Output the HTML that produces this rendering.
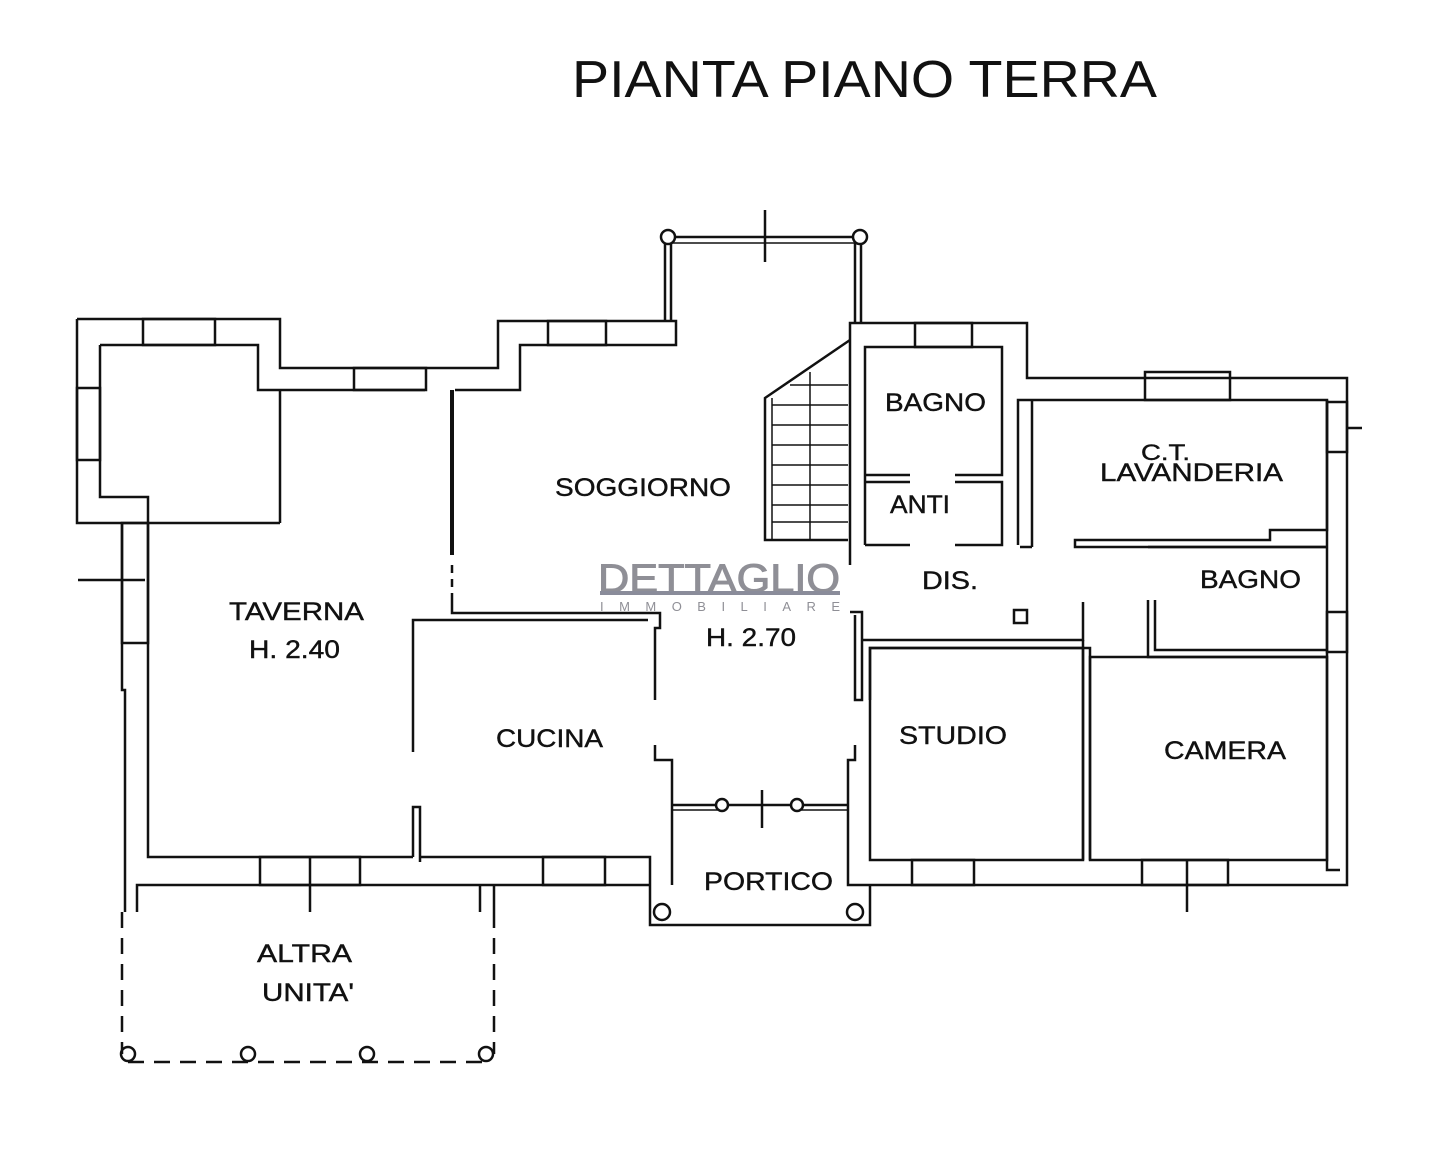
<!DOCTYPE html>
<html><head><meta charset="utf-8"><style>
html,body{margin:0;padding:0;background:#fff;}
svg{display:block;}
text{font-family:"Liberation Sans",sans-serif;fill:#111;}
</style></head><body>
<svg width="1451" height="1173" viewBox="0 0 1451 1173" xmlns="http://www.w3.org/2000/svg">
<rect width="1451" height="1173" fill="#fff"/>
<text x="572" y="97" font-size="52" textLength="585" lengthAdjust="spacingAndGlyphs">PIANTA PIANO TERRA</text>

<g fill="none" stroke="#111" stroke-width="2.5">
<!-- left block -->
<polyline points="77,319 280,319 280,368 498,368 498,321 676,321 676,345 520,345 520,390 455,390"/>
<polyline points="77,319 77,523 148,523"/>
<polyline points="100,345 258,345 258,390 425,390"/>
<polyline points="100,345 100,497 148,497 148,857 413,857"/>
<line x1="148" y1="523" x2="280" y2="523"/>
<line x1="280" y1="390" x2="280" y2="523"/>
<rect x="143" y="319" width="72" height="26"/>
<rect x="354" y="368" width="72" height="22"/>
<rect x="548" y="321" width="58" height="24"/>
<rect x="77" y="388" width="23" height="72"/>
<polyline points="122,523 122,690 125,690 125,912"/>
<polyline points="137,912 137,885 650,885"/>
<rect x="260" y="857" width="100" height="28"/>
<line x1="310" y1="857" x2="310" y2="912"/>
<rect x="543" y="857" width="62" height="28"/>
<line x1="78" y1="580" x2="145" y2="580"/>
<rect x="122" y="523" width="26" height="120"/>
<!-- partition taverna/soggiorno -->
<line x1="452" y1="390" x2="452" y2="555" stroke-width="4"/>
<line x1="452" y1="565" x2="452" y2="600" stroke-dasharray="8,6"/>
<polyline points="452,600 452,613 660,613 660,628 655,628 655,700"/>
<polyline points="413,752 413,620 648,620"/>
<polyline points="420,862 420,807 413,807 413,857"/>
<polyline points="420,857 650,857 650,885"/>
<polyline points="655,745 655,760 672,760 672,885"/>
<!-- bay top -->
<line x1="668" y1="237" x2="860" y2="237"/>
<line x1="668" y1="243" x2="860" y2="243" stroke-width="1.5"/>
<line x1="665" y1="243" x2="665" y2="321"/>
<line x1="671" y1="243" x2="671" y2="321"/>
<line x1="855" y1="243" x2="855" y2="323"/>
<line x1="861" y1="243" x2="861" y2="323"/>
<line x1="765" y1="210" x2="765" y2="262"/>
<circle cx="668" cy="237" r="7" fill="#fff"/>
<circle cx="860" cy="237" r="7" fill="#fff"/>
<!-- stairs -->
<polyline points="850,340 765,398 765,540 848,540"/>
<line x1="810" y1="372" x2="810" y2="540" stroke-width="1.5"/>
<g stroke-width="1.5">
<line x1="772" y1="405" x2="848" y2="405"/><line x1="772" y1="425" x2="848" y2="425"/>
<line x1="772" y1="445" x2="848" y2="445"/><line x1="772" y1="465" x2="848" y2="465"/>
<line x1="772" y1="485" x2="848" y2="485"/><line x1="772" y1="505" x2="848" y2="505"/>
<line x1="772" y1="522" x2="848" y2="522"/><line x1="790" y1="385" x2="848" y2="385"/>
<line x1="772" y1="398" x2="772" y2="540"/>
</g>
<!-- right block -->
<polyline points="850,565 850,323 1027,323 1027,378 1347,378 1347,870"/>
<polyline points="865,545 865,347 1002,347 1002,475 955,475"/>
<polyline points="865,475 910,475"/>
<polyline points="865,482 910,482"/><polyline points="955,482 1002,482 1002,545 955,545"/>
<polyline points="865,545 910,545"/>
<rect x="915" y="323" width="57" height="24"/>
<rect x="1145" y="372" width="85" height="28"/>
<polyline points="1018,545 1018,400 1327,400 1327,530 1270,530 1270,540 1075,540 1075,547 1085,547"/>
<line x1="1032" y1="547" x2="1032" y2="400"/>
<line x1="1020" y1="547" x2="1032" y2="547"/>
<polyline points="1085,547 1327,547"/>
<polyline points="1327,400 1327,870 1340,870"/>
<rect x="1327" y="402" width="20" height="50"/>
<line x1="1347" y1="428" x2="1362" y2="428"/>
<rect x="1327" y="612" width="20" height="40"/>
<polyline points="1148,600 1148,657 1327,657"/>
<polyline points="1155,600 1155,650 1327,650"/>
<polyline points="1148,547 1327,547"/>
<!-- studio / camera -->
<polyline points="850,612 862,612 862,700 855,700 855,615"/>
<polyline points="862,640 1083,640 1083,602"/>
<polyline points="870,700 870,648 1090,648 1090,860"/>
<polyline points="1083,640 1083,860"/>
<rect x="870" y="648" width="213" height="212"/>
<rect x="1090" y="657" width="237" height="203"/>
<polyline points="855,745 855,760 848,760 848,885 1347,885 1347,870"/>
<rect x="912" y="860" width="62" height="25"/>
<rect x="1142" y="860" width="86" height="25"/>
<line x1="1187" y1="860" x2="1187" y2="912"/>
<rect x="1014" y="610" width="13" height="13"/>
<!-- portico -->
<line x1="672" y1="805" x2="722" y2="805"/><line x1="672" y1="810" x2="722" y2="810" stroke-width="1.5"/>
<line x1="722" y1="805" x2="797" y2="805"/>
<line x1="797" y1="805" x2="848" y2="805"/><line x1="797" y1="810" x2="848" y2="810" stroke-width="1.5"/>
<line x1="762" y1="790" x2="762" y2="828"/>
<circle cx="722" cy="805" r="6" fill="#fff"/>
<circle cx="797" cy="805" r="6" fill="#fff"/>
<polyline points="650,885 650,925 870,925 870,885"/>
<circle cx="662" cy="912" r="8"/>
<circle cx="855" cy="912" r="8"/>
<!-- altra unita -->
<g stroke-dasharray="16,10">
<line x1="122" y1="912" x2="122" y2="1054"/>
<line x1="494" y1="912" x2="494" y2="1054"/>
<line x1="128" y1="1062" x2="486" y2="1062"/>
</g>
<line x1="480" y1="885" x2="480" y2="912"/>
<line x1="494" y1="885" x2="494" y2="912"/>
<circle cx="128" cy="1054" r="7"/><circle cx="248" cy="1054" r="7"/>
<circle cx="367" cy="1054" r="7"/><circle cx="486" cy="1054" r="7"/>
</g>

<!-- watermark -->
<text x="598" y="592" font-size="40" style="fill:#8f8f96;stroke:#8f8f96;stroke-width:1" textLength="242" lengthAdjust="spacingAndGlyphs">DETTAGLIO</text>
<rect x="600" y="591" width="240" height="4" fill="#8a8c9a"/>
<text x="600" y="611" font-size="13" style="fill:#8f8f96" textLength="240" lengthAdjust="spacing">IMMOBILIARE</text>

<g font-size="25" style="stroke:#111;stroke-width:0.4" lengthAdjust="spacingAndGlyphs">
<text x="555" y="496" textLength="176" lengthAdjust="spacingAndGlyphs">SOGGIORNO</text>
<text x="229" y="620" textLength="135" lengthAdjust="spacingAndGlyphs">TAVERNA</text>
<text x="249" y="658" textLength="91" lengthAdjust="spacingAndGlyphs">H. 2.40</text>
<text x="706" y="646" textLength="90" lengthAdjust="spacingAndGlyphs">H. 2.70</text>
<text x="496" y="747" textLength="107" lengthAdjust="spacingAndGlyphs">CUCINA</text>
<text x="885" y="411" textLength="101" lengthAdjust="spacingAndGlyphs">BAGNO</text>
<text x="890" y="513" textLength="60" lengthAdjust="spacingAndGlyphs">ANTI</text>
<text x="1141" y="460" font-size="22" textLength="49" lengthAdjust="spacingAndGlyphs">C.T.</text>
<text x="1100" y="481" textLength="183" lengthAdjust="spacingAndGlyphs">LAVANDERIA</text>
<text x="1200" y="588" textLength="101" lengthAdjust="spacingAndGlyphs">BAGNO</text>
<text x="922" y="589" textLength="56" lengthAdjust="spacingAndGlyphs">DIS.</text>
<text x="899" y="744" textLength="108" lengthAdjust="spacingAndGlyphs">STUDIO</text>
<text x="1164" y="759" textLength="122" lengthAdjust="spacingAndGlyphs">CAMERA</text>
<text x="704" y="890" textLength="129" lengthAdjust="spacingAndGlyphs">PORTICO</text>
<text x="257" y="962" textLength="95" lengthAdjust="spacingAndGlyphs">ALTRA</text>
<text x="262" y="1001" textLength="92" lengthAdjust="spacingAndGlyphs">UNITA'</text>
</g>
</svg>
</body></html>
